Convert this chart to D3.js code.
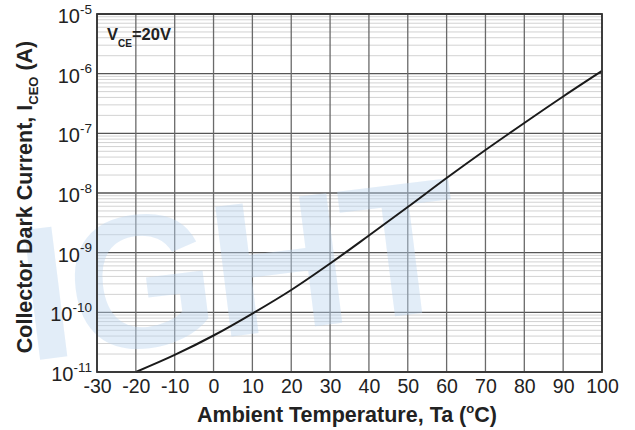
<!DOCTYPE html>
<html>
<head>
<meta charset="utf-8">
<script src="https://cdn.jsdelivr.net/npm/d3@7"></script>
<style>
  html, body { margin: 0; padding: 0; background: #fff; }
  svg { display: block; font-family: "Liberation Sans", Arial, sans-serif; }
</style>
</head>
<body>
<svg id="chart" width="635" height="430"></svg>
<script>
// ---- data ----
const temperatures = [-20, -10, 0, 10, 20, 30, 40, 50, 60, 70, 80, 90, 100];
const darkCurrent = [1.0e-11, 1.93e-11, 4.09e-11, 9.55e-11, 2.37e-10, 6.58e-10, 1.94e-9, 5.82e-9, 1.78e-8, 5.25e-8, 1.49e-7, 4.14e-7, 1.11e-6];
const xTicks = [-30, -20, -10, 0, 10, 20, 30, 40, 50, 60, 70, 80, 90, 100];
const yExponents = [-11, -10, -9, -8, -7, -6, -5];

const svg = d3.select("#chart");
const pL = 97, pR = 602, pT = 14, pB = 372;

const x = d3.scaleLinear().domain([-30, 100]).range([pL, pR]);
const y = d3.scaleLog().domain([1e-11, 1e-5]).range([pB, pT]);

const grid = svg.append("g");
// minor horizontal lines
const minors = [];
for (let e = -11; e < -5; e++) for (let m = 2; m <= 9; m++) minors.push(m * Math.pow(10, e));
grid.selectAll("line.minor").data(minors).enter().append("line")
  .attr("x1", pL).attr("x2", pR)
  .attr("y1", d => y(d)).attr("y2", d => y(d))
  .attr("stroke", "#d2d2d2").attr("stroke-width", 1);
// major horizontal
grid.selectAll("line.major").data(yExponents).enter().append("line")
  .attr("x1", pL).attr("x2", pR)
  .attr("y1", d => y(Math.pow(10, d))).attr("y2", d => y(Math.pow(10, d)))
  .attr("stroke", "#555").attr("stroke-width", 1.3);
// vertical
grid.selectAll("line.v").data(xTicks).enter().append("line")
  .attr("x1", d => x(d)).attr("x2", d => x(d))
  .attr("y1", pT).attr("y2", pB)
  .attr("stroke", "#6a6a6a").attr("stroke-width", 1.3);

// watermark (semi-transparent, over the grid)
svg.append("text")
  .attr("x", 18).attr("y", 336)
  .attr("transform", "rotate(-7 230 270)")
  .attr("font-size", 190).attr("font-weight", "bold")
  .attr("letter-spacing", -4)
  .attr("fill", "#b9d3ee").attr("fill-opacity", 0.42)
  .text("IGHT");

// curve
const line = d3.line().x((d, i) => x(temperatures[i])).y(d => y(d)).curve(d3.curveMonotoneX);
svg.append("path").datum(darkCurrent)
  .attr("d", line).attr("fill", "none")
  .attr("stroke", "#1a1a1a").attr("stroke-width", 2);

// frame
svg.append("rect").attr("x", pL).attr("y", pT)
  .attr("width", pR - pL).attr("height", pB - pT)
  .attr("fill", "none").attr("stroke", "#333").attr("stroke-width", 1.8);

// x axis labels
const xAxis = d3.axisBottom(x).tickValues(xTicks).tickSize(0).tickPadding(7).tickFormat(d => String(d));
const gx = svg.append("g").attr("transform", `translate(0,${pB})`).call(xAxis);
gx.select(".domain").remove();
gx.selectAll("text").attr("font-size", 19.5).attr("fill", "#222")
  .attr("font-family", "Liberation Sans, Arial, sans-serif");

// y axis labels
const yAxis = d3.axisLeft(y).tickValues(yExponents.map(e => Math.pow(10, e))).tickSize(0).tickPadding(0).tickFormat(() => "");
const gy = svg.append("g").attr("transform", `translate(${pL},0)`).call(yAxis);
gy.select(".domain").remove();
gy.selectAll(".tick text").each(function(d) {
  const t = d3.select(this);
  const e = Math.round(Math.log10(d));
  t.text(null).attr("x", -5).attr("dy", null).attr("y", 8.5).attr("text-anchor", "end")
    .attr("font-size", 20).attr("fill", "#222").attr("font-family", "Liberation Sans, Arial, sans-serif");
  t.append("tspan").text("10");
  t.append("tspan").attr("dy", -9.5).attr("font-size", 13.5).text(String(e));
});

// annotation V_CE=20V
const ann = svg.append("text").attr("x", 107).attr("y", 39.5)
  .attr("font-size", 16.5).attr("font-weight", "bold").attr("fill", "#222");
ann.append("tspan").text("V");
ann.append("tspan").attr("dy", 7).attr("font-size", 10).text("CE");
ann.append("tspan").attr("dy", -7).text("=20V");

// x title
const xt = svg.append("text").attr("x", 347).attr("y", 422)
  .attr("text-anchor", "middle").attr("font-size", 21.5).attr("font-weight", "bold").attr("fill", "#222");
xt.append("tspan").text("Ambient Temperature, Ta (");
xt.append("tspan").attr("dy", -9).attr("font-size", 13).text("o");
xt.append("tspan").attr("dy", 9).text("C)");

// y title
const yt = svg.append("text").attr("transform", "translate(32,197) rotate(-90)")
  .attr("text-anchor", "middle").attr("font-size", 21.5).attr("font-weight", "bold").attr("fill", "#222");
yt.append("tspan").text("Collector Dark Current, I");
yt.append("tspan").attr("dy", 6).attr("font-size", 13).text("CEO");
yt.append("tspan").attr("dy", -6).text(" (A)");
</script>
</body>
</html>
